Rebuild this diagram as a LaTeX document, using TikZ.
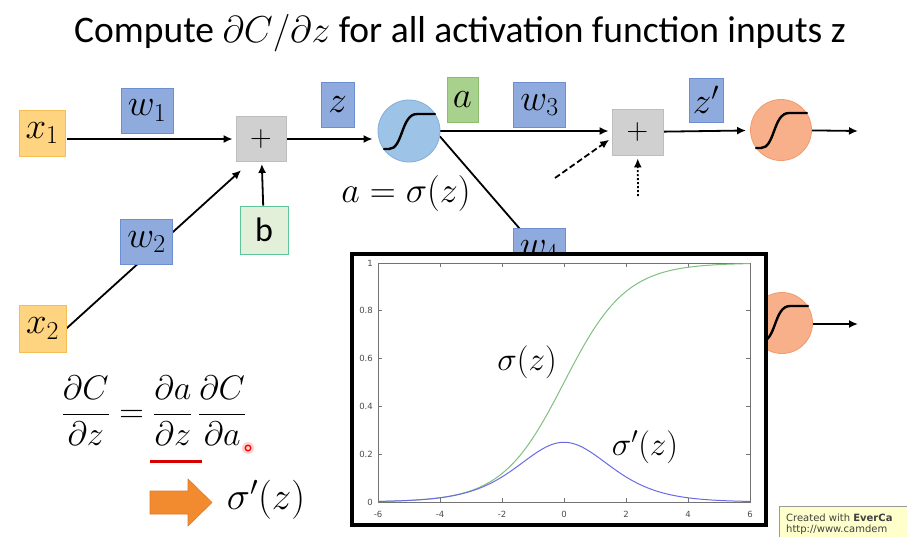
\RequirePackage{fix-cm}
\documentclass[tikz,border=0pt]{standalone}
\usepackage{fontspec}
\setmainfont{Carlito}
\newfontfamily\tickfont{DejaVu Sans}
\usetikzlibrary{arrows.meta,backgrounds}
\definecolor{xfill}{HTML}{FFD480}
\definecolor{xdraw}{HTML}{F5BE55}
\definecolor{wfill}{HTML}{8FAADC}
\definecolor{wdraw}{HTML}{6E8ED2}
\definecolor{pfill}{HTML}{D0D0D0}
\definecolor{pdraw}{HTML}{BDBDBD}
\definecolor{bfill}{HTML}{E2F0D9}
\definecolor{bdraw}{HTML}{5EC49C}
\definecolor{afill}{HTML}{A9D18E}
\definecolor{adraw}{HTML}{8DBE6E}
\definecolor{sfill}{HTML}{9DC3E6}
\definecolor{sdraw}{HTML}{82AEDD}
\definecolor{ofill}{HTML}{F8B08A}
\definecolor{odraw}{HTML}{F29A6C}
\definecolor{sigcol}{HTML}{80C080}
\definecolor{dercol}{HTML}{6A6AE6}
\definecolor{arrcol}{HTML}{F28B30}
\definecolor{arrdraw}{HTML}{E07820}
\definecolor{wmfill}{HTML}{FFFFCC}
\begin{document}
\begin{tikzpicture}[x=1pt,y=-1pt,
  box/.style={draw, line width=0.8pt, inner sep=0pt, font=\fontsize{37}{40}\selectfont},
  xbox/.style={box, fill=xfill, draw=xdraw, minimum width=46pt, minimum height=46pt},
  wbox/.style={box, fill=wfill, draw=wdraw, minimum width=52pt, minimum height=45pt},
  narrowbox/.style={box, fill=wfill, draw=wdraw, minimum width=33pt, minimum height=45pt},
  plusbox/.style={box, fill=pfill, draw=pdraw, minimum width=50pt, minimum height=45pt, font=\fontsize{30}{32}\selectfont},
  neuron/.style={circle, draw, line width=0.8pt, minimum size=61pt, inner sep=0pt},
  conn/.style={line width=1.8pt, -{Latex[length=9pt,width=8pt]}},
  sig/.style={line width=2.4pt, line cap=round},
  mathlbl/.style={inner sep=0pt, font=\fontsize{36}{38}\selectfont},
  tick/.style={inner sep=0pt, font=\tickfont\fontsize{8.5}{9}\selectfont, text=black!70}
]
\useasboundingbox (0,0) rectangle (907,536);

% title
\node[inner sep=0pt, font=\fontsize{37.5}{40}\selectfont] (title) at (460,33)
  {Compute $\partial C/\partial z$ for all activation function inputs z};

% nodes
\node[xbox] (x1) at (42,133) {$x_1$};
\node[xbox, minimum width=47pt, minimum height=47pt] (x2) at (42.5,328.5) {$x_2$};
\node[wbox] (w1) at (147,110.5) {$w_1$};
\node[plusbox] (plus) at (261,139) {$+$};
\node[box, fill=bfill, draw=bdraw, minimum width=48pt, minimum height=48pt, font=\fontsize{34}{36}\selectfont] (b) at (264,230) {b};
\node[narrowbox] (z) at (337.5,105) {$z$};
\node[neuron, fill=sfill, draw=sdraw, minimum size=62pt] (s1) at (409,131) {};
\node[box, fill=afill, draw=adraw, minimum width=31pt, minimum height=45pt] (a) at (462.5,99.5) {$a$};
\node[wbox] (w3) at (539.5,105) {$w_3$};
\node[plusbox, minimum width=51pt, minimum height=46pt] (plus2) at (637.5,132) {$+$};
\node[narrowbox, minimum width=34pt, minimum height=44pt] (zp) at (706,100) {$z'$};
\node[neuron, fill=ofill, draw=odraw] (o1) at (781,130) {};
\node[neuron, fill=ofill, draw=odraw] (o2) at (782,323) {};
\node[wbox] (w4) at (539,251) {$w_4$};
\coordinate (dashin) at (555,178);
\coordinate (dotin) at (638,196);
\coordinate (out1) at (858,131);
\coordinate (out2) at (858,324);

% connectors
\begin{scope}[on background layer]
\fill[white] (0,0) rectangle (907,536);
\draw[conn, shorten <=2pt, shorten >=3pt] (x1.east |- plus.west) -- (plus.west);
\draw[conn, shorten >=2pt] (x2.east) -- ([xshift=7pt,yshift=-7pt]plus.south west);
\draw[conn, shorten >=2pt] (b) -- (plus);
\draw[conn, shorten >=5pt] (plus) -- (plus -| s1.west);
\draw[conn, shorten >=3pt] (s1.east) -- (plus2.west |- s1.east);
\draw[line width=1.8pt] (s1.-10) -- (w4.center);
\draw[conn, shorten >=4pt] (plus2) -- (o1);
\draw[conn] (o1) -- (out1);
\draw[conn] (o2.east |- out2) -- (out2);
\draw[conn, dash pattern=on 6pt off 3pt, shorten >=3pt] (dashin) -- (plus2.west |- 0,138);
\draw[conn, dash pattern=on 2pt off 2pt, shorten >=3pt] (dotin) -- (plus2);
\end{scope}
\node[wbox] (w2) at (146.5,242) {$w_2$};

% sigmoid glyphs
\foreach \n in {s1,o1,o2}{
  \begin{scope}[shift={(\n.center)}]
    \draw[sig] (-25,18) -- (-20,18) .. controls (-6,18) and (-8,-17) .. (8,-17) -- (26,-17);
  \end{scope}
}

% a = sigma(z)
\node[mathlbl] (asig) at (406,193) {$a=\sigma(z)$};

% plot box
\node[draw=black, line width=4.5pt, fill=white, minimum width=414pt, minimum height=271pt, inner sep=0pt] (plotbox) at (559,389.5) {};
\draw[black!55, line width=0.7pt] (378,263) rectangle (750,502);
\foreach \t in {-6,-4,...,6}{
  \draw[black!55, line width=0.7pt] ({378+(\t+6)*31},502) -- ({378+(\t+6)*31},498);
  \draw[black!55, line width=0.7pt] ({378+(\t+6)*31},263) -- ({378+(\t+6)*31},267);
  \node[tick] (xt\t) at ({378+(\t+6)*31},514) {\t};
}
\foreach \v/\lab in {0/0,0.2/0.2,0.4/0.4,0.6/0.6,0.8/0.8,1/1}{
  \draw[black!55, line width=0.7pt] (378,{502-239*\v}) -- (382,{502-239*\v});
  \draw[black!55, line width=0.7pt] (750,{502-239*\v}) -- (746,{502-239*\v});
  \node[tick, anchor=east] (yt\lab) at (373,{502-239*\v}) {\lab};
}
\draw[sigcol, line width=1pt] plot[domain=-6:6, samples=121, smooth] ({378+(\x+6)*31},{502-239/(1+exp(-\x))});
\draw[dercol, line width=1pt] plot[domain=-6:6, samples=121, smooth] ({378+(\x+6)*31},{502-239/((1+exp(-\x))*(1+exp(\x)))});
\node[inner sep=0pt, font=\fontsize{33}{35}\selectfont] (siglbl) at (527,362) {$\sigma(z)$};
\node[inner sep=0pt, font=\fontsize{33}{35}\selectfont] (derlbl) at (645,447) {$\sigma'(z)$};

% chain rule
\node[mathlbl, font=\fontsize{34}{40}\selectfont] (chain) at (154,411)
  {$\displaystyle\frac{\partial C}{\partial z}=\frac{\partial a}{\partial z}\,\frac{\partial C}{\partial a}$};
\draw[red!85!black, line width=3pt] (150,461) -- (202,461);
\fill[red, opacity=0.18] (248,448) circle (6);
\draw[red, line width=1.3pt] (248,448) circle (2.8);

% orange arrow and sigma'
\filldraw[fill=arrcol, draw=arrdraw, line width=0.6pt]
  (150,491) -- (188,491) -- (188,479) -- (212,502.5) -- (188,526) -- (188,514) -- (150,514) -- cycle;
\node[mathlbl, font=\fontsize{39}{42}\selectfont] (dsig) at (266,500) {$\sigma'(z)$};

% watermark
\begin{scope}
\clip (0,0) rectangle (907,536);
\filldraw[fill=wmfill, draw=black!40, line width=0.6pt] (779,506) rectangle (915,545);
\node[anchor=west, inner sep=0pt, font=\tickfont\fontsize{10}{12}\selectfont, text=black!75] (wm1) at (786,518) {Created with \textbf{EverCa}};
\node[anchor=west, inner sep=0pt, font=\tickfont\fontsize{10}{12}\selectfont, text=black!75] (wm2) at (786,530) {http://www.camdem};
\end{scope}
\end{tikzpicture}
\end{document}
